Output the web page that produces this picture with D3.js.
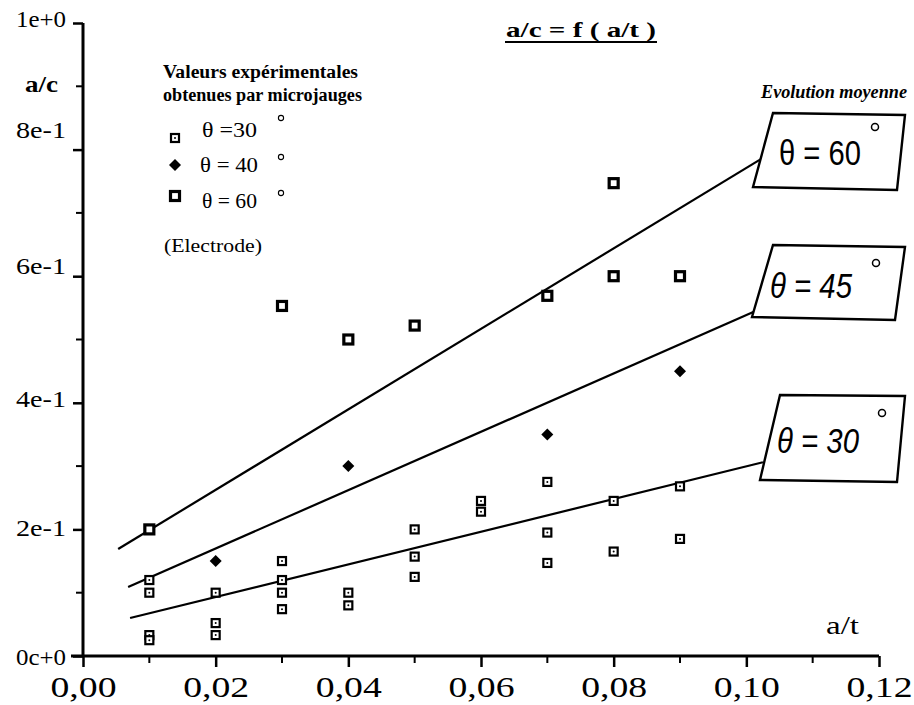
<!DOCTYPE html>
<html><head><meta charset="utf-8">
<script src="https://cdn.jsdelivr.net/npm/d3@7"></script>
<style>body{margin:0;background:#fff}svg{display:block}</style>
</head><body>
<svg id="c" width="914" height="705"></svg>
<script>
// ---- data ----
const xTickValues = [0, 0.02, 0.04, 0.06, 0.08, 0.10, 0.12];
const xTickLabels = ["0,00", "0,02", "0,04", "0,06", "0,08", "0,10", "0,12"];
const yTickValues = [0, 0.2, 0.4, 0.6, 0.8, 1.0];
const yTickLabels = ["0c+0", "2e-1", "4e-1", "6e-1", "8e-1", "1e+0"];
// theta = 30 (small open squares)
const theta30 = [[0.01,0.12],[0.01,0.10],[0.01,0.033],[0.01,0.025],
  [0.02,0.10],[0.02,0.052],[0.02,0.033],
  [0.03,0.15],[0.03,0.12],[0.03,0.10],[0.03,0.074],
  [0.04,0.10],[0.04,0.08],
  [0.05,0.20],[0.05,0.157],[0.05,0.125],
  [0.06,0.245],[0.06,0.228],
  [0.07,0.275],[0.07,0.195],[0.07,0.147],
  [0.08,0.245],[0.08,0.165],
  [0.09,0.268],[0.09,0.185]];
// theta = 40 (diamonds)
const theta40 = [[0.02,0.15],[0.04,0.30],[0.07,0.35],[0.09,0.45]];
// theta = 60 (bold squares)
const theta60 = [[0.01,0.20],[0.03,0.553],[0.04,0.50],[0.05,0.522],[0.07,0.569],[0.08,0.747],[0.08,0.60],[0.09,0.60]];
// mean evolution lines
const lineNames = ["60", "45", "30"];
const lineX0 = [0.0053, 0.0068, 0.0071];
const lineY0 = [0.169, 0.109, 0.06];
const lineX1 = [0.1025, 0.1025, 0.1025];
const lineY1 = [0.787, 0.55, 0.306];

// ---- drawing ----
const svg = d3.select("#c");
const x = d3.scaleLinear().domain([0, 0.12]).range([83, 879]);
const y = d3.scaleLinear().domain([0, 1]).range([656, 23]);
const serif = "'Liberation Serif', 'Times New Roman', serif";
const sans = "'Liberation Sans', Arial, sans-serif";

function fit(sel, len) { return sel.attr("textLength", len).attr("lengthAdjust", "spacingAndGlyphs"); }

// x axis
const xAxis = d3.axisBottom(x).tickValues(xTickValues).tickFormat((d,i)=>xTickLabels[i]).tickSize(11);
const gx = svg.append("g").attr("transform", `translate(0,${y(0)})`).call(xAxis);
gx.attr("font-family", null).attr("font-size", null);
gx.select(".domain").attr("stroke-width", 3).attr("d", `M${x(0)-12},0H${x(0.12)}`);
gx.selectAll(".tick line").attr("stroke-width", 2.5);
gx.selectAll(".tick text").attr("font-family", serif).attr("font-size", 29).attr("fill", "#000")
  .attr("y", 41).attr("dy", null).attr("textLength", 66).attr("lengthAdjust", "spacingAndGlyphs");
const xMinor = d3.range(0.01, 0.12, 0.02);
svg.append("g").attr("transform", `translate(0,${y(0)})`).selectAll("line").data(xMinor).join("line")
  .attr("x1", d=>x(d)).attr("x2", d=>x(d)).attr("y1", 0).attr("y2", 7).attr("stroke", "#000").attr("stroke-width", 2);

// y axis
const labelNudge = [0, -2, -4, -11, -20, -5];
const yAxis = d3.axisLeft(y).tickValues(yTickValues).tickFormat((d,i)=>yTickLabels[i]).tickSize(10).tickPadding(7);
const gy = svg.append("g").attr("transform", `translate(${x(0)},0)`).call(yAxis);
gy.attr("font-family", null).attr("font-size", null);
gy.select(".domain").attr("stroke-width", 3).attr("d", `M0,${y(0)}V${y(1)}`);
gy.selectAll(".tick line").attr("stroke-width", 2.5);
gy.selectAll(".tick text").attr("font-family", serif).attr("font-size", 23).attr("fill", "#000")
  .attr("dy", (d,i)=> (labelNudge[i] + 8) + "px").attr("textLength", 50).attr("lengthAdjust", "spacingAndGlyphs");
const yMinor = d3.range(0.1, 1.0, 0.2);
svg.append("g").attr("transform", `translate(${x(0)},0)`).selectAll("line").data(yMinor).join("line")
  .attr("x1", 0).attr("x2", -7).attr("y1", d=>y(d)).attr("y2", d=>y(d)).attr("stroke", "#000").attr("stroke-width", 2);

// axis titles
fit(svg.append("text").attr("x", 25).attr("y", 92).attr("font-family", serif).attr("font-weight", "bold").attr("font-size", 23).text("a/c"), 33);
fit(svg.append("text").attr("x", 826).attr("y", 634).attr("font-family", serif).attr("font-size", 25).text("a/t"), 33);

// title
fit(svg.append("text").attr("x", 506).attr("y", 37).attr("font-family", serif).attr("font-weight", "bold").attr("font-size", 21).text("a/c = f ( a/t )"), 150);
svg.append("line").attr("x1", 505).attr("x2", 657).attr("y1", 42).attr("y2", 42).attr("stroke", "#000").attr("stroke-width", 2);

// legend text
fit(svg.append("text").attr("x", 163).attr("y", 78).attr("font-family", serif).attr("font-weight", "bold").attr("font-size", 18).text("Valeurs expérimentales"), 195);
fit(svg.append("text").attr("x", 163).attr("y", 101).attr("font-family", serif).attr("font-weight", "bold").attr("font-size", 18).text("obtenues par microjauges"), 199);
fit(svg.append("text").attr("x", 761).attr("y", 98).attr("font-family", serif).attr("font-weight", "bold").attr("font-style", "italic").attr("font-size", 18).text("Evolution moyenne"), 146);

// lines
svg.append("g").selectAll("line").data(lineNames).join("line")
  .attr("x1", (d,i)=>x(lineX0[i])).attr("y1", (d,i)=>y(lineY0[i]))
  .attr("x2", (d,i)=>x(lineX1[i])).attr("y2", (d,i)=>y(lineY1[i]))
  .attr("stroke", "#000").attr("stroke-width", 2.2);

// markers
function smallSquare(g, cx, cy) {
  g.append("rect").attr("x", cx-4).attr("y", cy-4).attr("width", 8).attr("height", 8).attr("fill", "#fff").attr("stroke", "#000").attr("stroke-width", 2.2);
  g.append("circle").attr("cx", cx).attr("cy", cy).attr("r", 1).attr("fill", "#000");
}
function bigSquare(g, cx, cy) {
  g.append("rect").attr("x", cx-4.5).attr("y", cy-4.5).attr("width", 9).attr("height", 9).attr("fill", "#fff").attr("stroke", "#000").attr("stroke-width", 3.2);
}
function diamond(g, cx, cy) {
  g.append("path").attr("d", `M${cx},${cy-6}L${cx+6},${cy}L${cx},${cy+6}L${cx-6},${cy}Z`).attr("fill", "#000");
}
const gm = svg.append("g");
theta30.forEach(d => smallSquare(gm, x(d[0]), y(d[1])));
theta40.forEach(d => diamond(gm, x(d[0]), y(d[1])));
theta60.forEach(d => bigSquare(gm, x(d[0]), y(d[1])));

// legend entries
const legendLabels = ["θ =30", "θ = 40", "θ = 60"];
const legendTextY = [137, 172, 208];
const legendMarkY = [138, 165, 196];
const legendDegY = [118, 157, 193];
const legendLen = [55, 58, 55];
const gl = svg.append("g");
smallSquare(gl, 175, legendMarkY[0]);
diamond(gl, 175, legendMarkY[1]);
bigSquare(gl, 175, legendMarkY[2]);
legendLabels.forEach((t,i) => {
  fit(gl.append("text").attr("x", i === 1 ? 200 : 202).attr("y", legendTextY[i]).attr("font-family", serif).attr("font-size", 21).text(t), legendLen[i]);
  gl.append("circle").attr("cx", 281).attr("cy", legendDegY[i]).attr("r", 2.6).attr("fill", "none").attr("stroke", "#000").attr("stroke-width", 1.1);
});
fit(svg.append("text").attr("x", 164).attr("y", 252).attr("font-family", serif).attr("font-size", 19).text("(Electrode)"), 98);

// parallelogram boxes
const boxes = [
  {pts: [[773,113],[905,115],[897,190],[753,187]], tx: 779, ty: 165, dx: 875, dy: 127, italic: false},
  {pts: [[773,245],[905,247],[895,320],[752,317]], tx: 770, ty: 298, dx: 876, dy: 263, italic: true},
  {pts: [[780,395],[905,396],[897,482],[760,480]], tx: 777, ty: 453, dx: 882, dy: 413, italic: true}
];
const gb = svg.append("g");
boxes.forEach((b,i) => {
  gb.append("path").attr("d", "M" + b.pts.map(p=>p.join(",")).join("L") + "Z")
    .attr("fill", "#fff").attr("stroke", "#000").attr("stroke-width", 2.4);
  fit(gb.append("text").attr("x", b.tx).attr("y", b.ty).attr("font-family", sans).attr("font-size", 35)
    .attr("font-style", b.italic ? "italic" : "normal").text("θ = " + lineNames[i]), 82);
  gb.append("circle").attr("cx", b.dx).attr("cy", b.dy).attr("r", 3.5).attr("fill", "none").attr("stroke", "#000").attr("stroke-width", 1.5);
});
</script>
</body></html>
